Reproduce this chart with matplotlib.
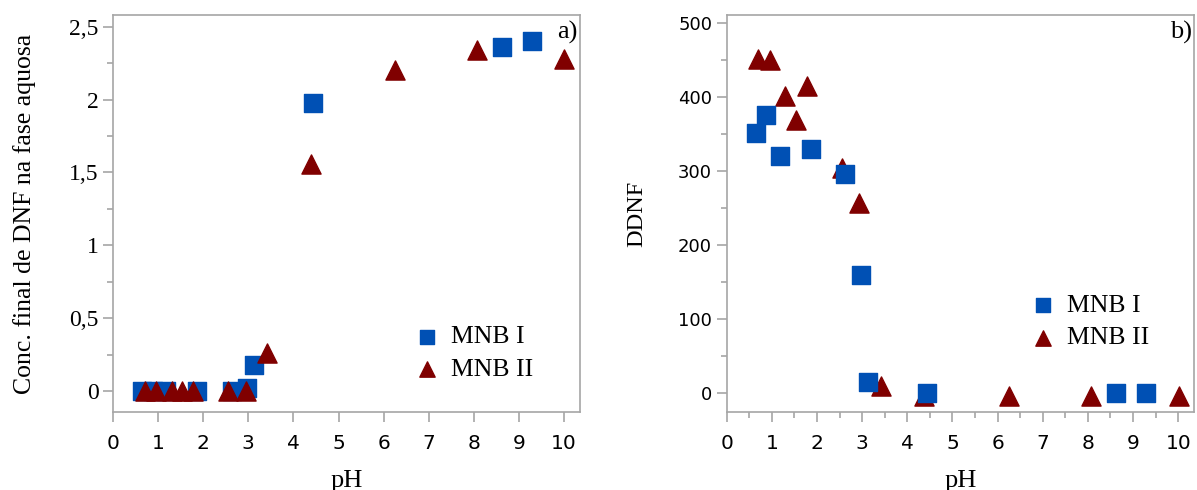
import matplotlib.pyplot as plt
from matplotlib.ticker import MultipleLocator, FuncFormatter

# MNB I (squares) and MNB II (triangles)
ph_mnb1 = [0.65, 0.88, 1.17, 1.86, 2.63, 2.97, 3.12, 4.44, 8.63, 9.29]
conc_mnb1 = [0.0, 0.0, 0.0, 0.0, 0.0, 0.02, 0.18, 1.98, 2.36, 2.40]
ddnf_mnb1 = [351, 375, 320, 330, 296, 160, 15, 0, 0, 0]

ph_mnb2 = [0.70, 0.95, 1.30, 1.53, 1.78, 2.55, 2.94, 3.42, 4.38, 6.25, 8.07, 10.01]
conc_mnb2 = [0.0, 0.0, 0.0, 0.0, 0.0, 0.0, 0.0, 0.26, 1.56, 2.20, 2.34, 2.28]
ddnf_mnb2 = [451, 449, 401, 368, 415, 304, 257, 10, -4, -4, -4, -4]

blue = '#0050b4'
red = '#800000'
gray = '#a6a6a6'
serif = 'Liberation Serif'
sans = 'DejaVu Sans'

fig = plt.figure(figsize=(11.97, 4.9), dpi=100)
ax1 = fig.add_axes([0.0944, 0.1592, 0.390, 0.810])
ax2 = fig.add_axes([0.6071, 0.1592, 0.3904, 0.810])


def style_axis(ax):
    for s in ax.spines.values():
        s.set_color(gray)
        s.set_linewidth(1.2)
    ax.tick_params(which='both', direction='out', color=gray, width=1.2)
    ax.tick_params(which='major', length=7)
    ax.tick_params(which='minor', length=4)
    ax.tick_params(axis='x', which='major', pad=9)
    ax.xaxis.set_major_locator(MultipleLocator(1))
    for lab in ax.get_xticklabels():
        lab.set_fontfamily(sans)
        lab.set_fontsize(14.5)
    ax.set_xlim(0, 10.35)
    ax.set_xlabel('pH', fontfamily=serif, fontsize=19, labelpad=12)


def add_legend(ax, handles, labels, x, y):
    ax.legend(handles, labels, loc='center left', bbox_to_anchor=(x, y), frameon=False,
              prop={'family': serif, 'size': 18.5}, markerscale=0.8,
              borderpad=0, handlelength=1.0, handletextpad=0.45, labelspacing=0.38)


# panel a
ax1.scatter(ph_mnb1, conc_mnb1, marker='s', s=150, color=blue, label='MNB I', zorder=2)
ax1.scatter(ph_mnb2, conc_mnb2, marker='^', s=190, color=red, label='MNB II', zorder=3)
ax1.set_ylim(-0.144, 2.58)
ax1.yaxis.set_major_locator(MultipleLocator(0.5))
ax1.yaxis.set_minor_locator(MultipleLocator(0.25))
ax1.yaxis.set_major_formatter(FuncFormatter(lambda v, p: f'{v:g}'.replace('.', ',')))
style_axis(ax1)
for lab in ax1.get_yticklabels():
    lab.set_fontfamily(serif)
    lab.set_fontsize(17)
ax1.set_ylabel('Conc. final de DNF na fase aquosa', fontfamily=serif, fontsize=18.5, labelpad=24)
ax1.text(0.995, 0.955, 'a)', transform=ax1.transAxes, ha='right', va='center',
         fontfamily=serif, fontsize=19)
h, l = ax1.get_legend_handles_labels()
add_legend(ax1, h, l, 0.617, 0.148)

# panel b
ax2.scatter(ph_mnb2, ddnf_mnb2, marker='^', s=190, color=red, label='MNB II', zorder=2)
ax2.scatter(ph_mnb1, ddnf_mnb1, marker='s', s=150, color=blue, label='MNB I', zorder=3)
ax2.set_ylim(-25, 510)
ax2.yaxis.set_major_locator(MultipleLocator(100))
ax2.yaxis.set_minor_locator(MultipleLocator(50))
ax2.xaxis.set_minor_locator(MultipleLocator(0.5))
style_axis(ax2)
for lab in ax2.get_yticklabels():
    lab.set_fontfamily(sans)
    lab.set_fontsize(13)
ax2.set_ylabel('DDNF', fontfamily=serif, fontsize=17.5, labelpad=22)
ax2.text(0.995, 0.955, 'b)', transform=ax2.transAxes, ha='right', va='center',
         fontfamily=serif, fontsize=19)
h, l = ax2.get_legend_handles_labels()
add_legend(ax2, h[::-1], l[::-1], 0.621, 0.228)

fig.savefig('out.png', dpi=100)
